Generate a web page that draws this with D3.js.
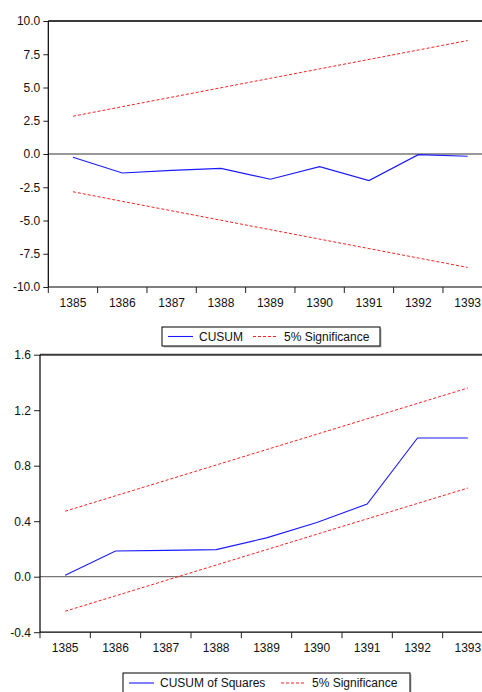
<!DOCTYPE html>
<html>
<head>
<meta charset="utf-8">
<script src="https://cdn.jsdelivr.net/npm/d3@7"></script>
<style>
  body { margin: 0; background: #fff; }
  svg { display: block; font-family: Arial, "Liberation Sans", sans-serif; }
  .tick text { font-size: 12px; fill: #111; }
</style>
</head>
<body>
<div id="chart"></div>
<script>
//Data
var years = ["1385","1386","1387","1388","1389","1390","1391","1392","1393"];

//CUSUM panel
var cusum      = [-0.25, -1.43, -1.23, -1.08, -1.90, -0.95, -2.00, -0.05, -0.17];
var cusumUpper = [2.84, 3.56, 4.27, 4.98, 5.69, 6.40, 7.11, 7.82, 8.53];
var cusumLower = [-2.84, -3.56, -4.27, -4.98, -5.69, -6.40, -7.11, -7.82, -8.53];
var cusumTicks = [-10, -7.5, -5, -2.5, 0, 2.5, 5, 7.5, 10];

//CUSUM of squares panel
var cusumSq      = [0.01, 0.185, 0.19, 0.195, 0.28, 0.39, 0.524, 1.0, 1.0];
var cusumSqUpper = [0.472, 0.583, 0.694, 0.805, 0.916, 1.027, 1.138, 1.249, 1.360];
var cusumSqLower = [-0.249, -0.138, -0.027, 0.084, 0.195, 0.306, 0.417, 0.528, 0.639];
var cusumSqTicks = [-0.4, 0, 0.4, 0.8, 1.2, 1.6];

var legendTop = ["CUSUM", "5% Significance"];
var legendBottom = ["CUSUM of Squares", "5% Significance"];

var W = 482, H = 692;

var svg = d3.select("#chart").append("svg")
  .attr("width", W)
  .attr("height", H);

function panel(opt) {
  var x = d3.scaleBand().domain(years).range([opt.left, opt.right]);
  var y = d3.scaleLinear().domain(opt.domain).range([opt.bottom, opt.top]);
  var cx = function(d, i) { return x(years[i]) + x.bandwidth() / 2; };

  var g = svg.append("g");

  //top frame
  g.append("line")
    .attr("x1", opt.left).attr("x2", W)
    .attr("y1", y(opt.domain[1])).attr("y2", y(opt.domain[1]))
    .attr("stroke", "#3a3a3a").attr("stroke-width", 2);

  //zero line
  g.append("line")
    .attr("x1", opt.left).attr("x2", W)
    .attr("y1", y(0)).attr("y2", y(0))
    .attr("stroke", "#777").attr("stroke-width", 1.3);

  //y axis
  var yAxis = d3.axisLeft(y).tickValues(opt.ticks).tickSize(opt.tickLen).tickPadding(3)
    .tickFormat(d3.format(".1f"));
  var ya = g.append("g").attr("transform", "translate(" + opt.left + ",0)").call(yAxis);
  ya.select(".domain").remove();
  ya.selectAll(".tick line").attr("stroke", "#222");
  ya.selectAll(".tick text").text(function(d) { return d3.format(".1f")(d).replace("−", "-"); });

  g.append("line")
    .attr("x1", opt.left).attr("x2", opt.left)
    .attr("y1", y(opt.domain[1])).attr("y2", y(opt.domain[0]))
    .attr("stroke", "#000").attr("stroke-width", 1.2);

  //x axis
  var xa = g.append("g").attr("transform", "translate(0," + y(opt.domain[0]) + ")");
  xa.append("line")
    .attr("x1", opt.left).attr("x2", W)
    .attr("stroke", "#000").attr("stroke-width", 1.2);
  xa.selectAll(".xt").data(years).enter().append("line")
    .attr("x1", function(d) { return x(d); }).attr("x2", function(d) { return x(d); })
    .attr("y1", 0).attr("y2", 6)
    .attr("stroke", "#222");
  xa.selectAll(".xl").data(years).enter().append("text")
    .attr("x", function(d) { return x(d) + x.bandwidth() / 2; })
    .attr("y", opt.labelDy)
    .attr("text-anchor", "middle")
    .attr("font-size", 12).attr("fill", "#111")
    .text(function(d) { return d; });

  var line = d3.line().x(cx).y(function(d) { return y(d); });

  [opt.upper, opt.lower].forEach(function(s) {
    g.append("path").datum(s).attr("d", line)
      .attr("fill", "none").attr("stroke", "#ff2020")
      .attr("stroke-width", 1).attr("stroke-dasharray", "3,2");
  });
  g.append("path").datum(opt.series).attr("d", line)
    .attr("fill", "none").attr("stroke", "#1a1aff").attr("stroke-width", 1.1);

  //legend
  var L = opt.legend;
  var lg = svg.append("g");
  lg.append("rect").attr("x", L.x + 1.5).attr("y", L.y + 1.5).attr("width", L.w).attr("height", L.h)
    .attr("fill", "#bbb");
  lg.append("rect").attr("x", L.x).attr("y", L.y).attr("width", L.w).attr("height", L.h)
    .attr("fill", "#fff").attr("stroke", "#000").attr("stroke-width", 1);
  var cy = L.y + L.h / 2;
  lg.append("line").attr("x1", L.x + 6).attr("x2", L.x + 31).attr("y1", cy).attr("y2", cy)
    .attr("stroke", "#1a1aff").attr("stroke-width", 1.1);
  lg.append("text").attr("x", L.x + 37).attr("y", cy).attr("dy", "0.35em")
    .attr("font-size", 12).attr("fill", "#111").text(L.labels[0]);
  lg.append("line").attr("x1", L.x2).attr("x2", L.x2 + 25).attr("y1", cy).attr("y2", cy)
    .attr("stroke", "#ff2020").attr("stroke-dasharray", "3,2");
  lg.append("text").attr("x", L.x2 + 31).attr("y", cy).attr("dy", "0.35em")
    .attr("font-size", 12).attr("fill", "#111").text(L.labels[1]);
}

panel({
  left: 48.3, right: 492.3, top: 21, bottom: 287,
  domain: [-10, 10], ticks: cusumTicks, tickLen: 5, labelDy: 20,
  series: cusum, upper: cusumUpper, lower: cusumLower,
  legend: { x: 162, y: 327, w: 218, h: 19, x2: 253, labels: legendTop }
});

panel({
  left: 40, right: 493, top: 354.7, bottom: 632.2,
  domain: [-0.4, 1.6], ticks: cusumSqTicks, tickLen: 6, labelDy: 20,
  series: cusumSq, upper: cusumSqUpper, lower: cusumSqLower,
  legend: { x: 123, y: 673, w: 287, h: 20, x2: 281, labels: legendBottom }
});
</script>
</body>
</html>
